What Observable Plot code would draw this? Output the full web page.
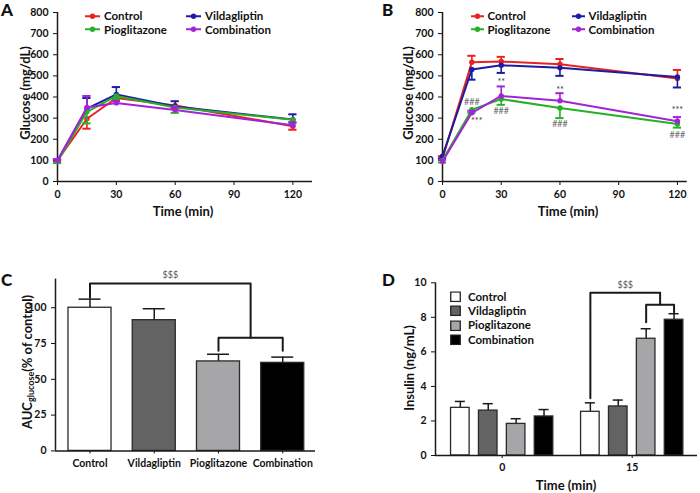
<!DOCTYPE html>
<html><head><meta charset="utf-8">
<script src="https://cdn.jsdelivr.net/npm/d3@7"></script>
<script src="https://cdn.jsdelivr.net/npm/@observablehq/plot@0.6"></script>
<style>
html,body{margin:0;padding:0;background:#fff;}
#fig{position:relative;width:700px;height:493px;overflow:hidden;font-family:Lato,sans-serif;color:#111;}
.panel{position:absolute;}
.letter{position:absolute;font-weight:900;font-size:17px;line-height:1;}
.leg{position:absolute;display:flex;align-items:center;font-weight:700;font-size:11.5px;line-height:1;white-space:nowrap;transform:translateY(-50%);}
.leg span{margin-left:4px;}
#titles{position:absolute;left:0;top:0;pointer-events:none;}
#titles text{font-family:Lato,sans-serif;font-weight:700;font-size:13px;fill:#111;}
</style></head><body><div id="fig"></div>
<script>
// ---------- data ----------
const groups = ["Control", "Vildagliptin", "Pioglitazone", "Combination"];
const times = [0, 15, 30, 60, 120];
const timeTicks = [0, 30, 60, 90, 120];

// Panel A: glucose (mg/dL), mean and SEM
const A_control = [100, 297, 395, 360, 262];
const A_vilda   = [100, 345, 412, 355, 293];
const A_pio     = [95, 330, 405, 350, 292];
const A_combo   = [100, 350, 372, 338, 266];
const A_control_err = [5, 47, 15, 15, 17];
const A_vilda_err   = [5, 50, 35, 25, 25];
const A_pio_err     = [8, 55, 15, 25, 15];
const A_combo_err   = [5, 55, 10, 15, 15];
const A_errDir = [-1, 1, -1, 1];

// Panel B
const B_control = [110, 565, 568, 555, 488];
const B_vilda   = [120, 530, 550, 538, 495];
const B_pio     = [100, 340, 390, 348, 272];
const B_combo   = [95, 325, 405, 382, 285];
const B_control_err = [10, 30, 22, 25, 40];
const B_vilda_err   = [10, 48, 36, 38, 50];
const B_pio_err     = [10, 15, 27, 48, 17];
const B_combo_err   = [8, 10, 45, 36, 20];
const B_errDir = [1, -1, -1, 1];
const B_annT     = [15, 17.5, 30, 30, 60, 60, 120, 120];
const B_annY     = [376, 284, 470, 331, 434, 273, 336, 218];
const B_annLabel = ["###", "***", "**", "###", "**", "###", "***", "###"];

// Panel C: AUC glucose (% of control)
const C_auc = [100, 91.3, 62.5, 61.5];
const C_err = [6, 8, 5, 4];
const C_sig = "$$$";

// Panel D: insulin (ng/mL)
const D_times = ["0", "15"];
const D_t0  = [2.76, 2.6, 1.83, 2.26];
const D_t0_err = [0.37, 0.4, 0.3, 0.4];
const D_t15 = [2.53, 2.84, 6.76, 7.86];
const D_t15_err = [0.52, 0.37, 0.58, 0.35];
const D_sig = "$$$";

// ---------- styles ----------
const lineColors = ["#e8231f", "#1c1ca3", "#27b027", "#a324d6"];
const barColors = ["#ffffff", "#636363", "#a6a6a9", "#000000"];
const axisColor = "#1a1a1a";
const baseStyle = {fontFamily: "Lato, sans-serif", fontSize: "10.5px", fontWeight: "bold", color: "#111", background: "transparent", overflow: "visible"};

const fig = document.getElementById("fig");
function place(el, left, top) { el.classList.add("panel"); el.style.left = left + "px"; el.style.top = top + "px"; fig.appendChild(el); }
function addDiv(cls, html, left, top) { const d = document.createElement("div"); d.className = cls; d.innerHTML = html; d.style.left = left + "px"; d.style.top = top + "px"; fig.appendChild(d); return d; }

function rowsOf(series, errs, dirs) {
  const rows = [];
  series.forEach((s, gi) => s.forEach((v, i) => rows.push({g: groups[gi], t: times[i], v, e: errs[gi][i], dir: dirs[gi]})));
  return rows;
}

function glucosePlot(rows, xmax, margins, ann) {
  const cap = 2.1;
  const marks = [
    Plot.ruleX([0], {y1: 0, y2: 800, stroke: axisColor, strokeWidth: 1.5}),
    Plot.ruleY([0], {x1: 0, x2: xmax, stroke: axisColor, strokeWidth: 1.5})
  ];
  groups.forEach(g => {
    const r = rows.filter(d => d.g === g);
    marks.push(
      Plot.ruleX(r, {x: "t", y1: "v", y2: d => d.v + d.dir * d.e, stroke: "g", strokeWidth: 1.6}),
      Plot.ruleY(r, {y: d => d.v + d.dir * d.e, x1: d => d.t - cap, x2: d => d.t + cap, stroke: "g", strokeWidth: 2}),
      Plot.line(r, {x: "t", y: "v", stroke: "g", strokeWidth: 2}),
      Plot.dot(r, {x: "t", y: "v", fill: "g", r: 2.7})
    );
  });
  if (ann) marks.push(Plot.text(ann, {x: "t", y: "y", text: "label", fill: d => d.label[0] === "#" ? "#6a6a6a" : "#333", fontSize: 9, fontWeight: "normal"}));
  return Plot.plot({
    width: 350, height: 240, ...margins,
    x: {domain: [0, xmax], ticks: timeTicks, tickSize: 4, label: null},
    y: {domain: [0, 800], ticks: d3.range(0, 801, 100), tickSize: 4, label: null},
    color: {domain: groups, range: lineColors},
    style: baseStyle,
    marks
  });
}

// Panel A
const rowsA = rowsOf([A_control, A_vilda, A_pio, A_combo], [A_control_err, A_vilda_err, A_pio_err, A_combo_err], A_errDir);
place(glucosePlot(rowsA, 130, {marginLeft: 57, marginRight: 38, marginTop: 12, marginBottom: 59}), 0, 0);

// Panel B
const rowsB = rowsOf([B_control, B_vilda, B_pio, B_combo], [B_control_err, B_vilda_err, B_pio_err, B_combo_err], B_errDir);
const annB = B_annT.map((t, i) => ({t, y: B_annY[i], label: B_annLabel[i]}));
place(glucosePlot(rowsB, 125, {marginLeft: 92, marginRight: 13.3, marginTop: 12, marginBottom: 59}, annB), 350, 0);

// Panel C
const rowsC = groups.map((g, i) => ({g, i, v: C_auc[i], e: C_err[i]}));
const hw = 0.335, capC = 0.171;
const bracketC = [
  {id: "a", x: 0, y: 107}, {id: "a", x: 0, y: 117}, {id: "a", x: 2.5, y: 117}, {id: "a", x: 2.5, y: 79},
  {id: "b", x: 2, y: 70}, {id: "b", x: 2, y: 79}, {id: "b", x: 3, y: 79}, {id: "b", x: 3, y: 70}
];
place(Plot.plot({
  width: 350, height: 253, marginLeft: 55, marginRight: 35, marginTop: 38.6, marginBottom: 42.6,
  x: {domain: [-0.537, 3.51], ticks: [0, 1, 2, 3], tickFormat: i => groups[i], tickSize: 3, tickPadding: 6, label: null},
  y: {domain: [0, 120], ticks: [0, 25, 50, 75, 100], tickSize: 4, label: null},
  color: {domain: groups, range: barColors},
  style: baseStyle,
  marks: [
    Plot.ruleX(rowsC, {x: "i", y1: "v", y2: d => d.v + d.e, stroke: axisColor, strokeWidth: 1.5}),
    Plot.ruleY(rowsC, {y: d => d.v + d.e, x1: d => d.i - capC, x2: d => d.i + capC, stroke: axisColor, strokeWidth: 1.5}),
    Plot.rect(rowsC, {x1: d => d.i - hw, x2: d => d.i + hw, y1: 0, y2: "v", fill: "g", stroke: "#2a2a2a", strokeWidth: 1.3}),
    Plot.line(bracketC, {x: "x", y: "y", z: "id", stroke: axisColor, strokeWidth: 2}),
    Plot.text([C_sig], {x: 1.25, y: 123, text: d => d, fontSize: 9, fill: "#555", fontWeight: "normal"}),
    Plot.ruleX([-0.537], {y1: 0, y2: 120, stroke: axisColor, strokeWidth: 1.5}),
    Plot.ruleY([0], {x1: -0.537, x2: 3.51, stroke: axisColor, strokeWidth: 1.5})
  ]
}), 0, 240);

// Panel D
const gap = 4.66;
const pos = (ti, gi) => ti * gap + gi - 1.5;
const rowsD = [];
[D_t0, D_t15].forEach((arr, ti) => arr.forEach((v, gi) => rowsD.push({g: groups[gi], p: pos(ti, gi), v, e: [D_t0_err, D_t15_err][ti][gi]})));
const hwD = 0.333, capD = 0.18;
const mid = (pos(1, 2) + pos(1, 3)) / 2;
const bracketD = [
  {id: "a", x: pos(1, 0), y: 3.32}, {id: "a", x: pos(1, 0), y: 9.42}, {id: "a", x: mid, y: 9.42}, {id: "a", x: mid, y: 8.73},
  {id: "b", x: pos(1, 2), y: 7.72}, {id: "b", x: pos(1, 2), y: 8.73}, {id: "b", x: pos(1, 3), y: 8.73}, {id: "b", x: pos(1, 3), y: 8.3}
];
const xD0 = -2.39, xD1 = 7.0;
place(Plot.plot({
  width: 350, height: 253, marginLeft: 85, marginRight: 3, marginTop: 42.3, marginBottom: 38,
  x: {domain: [xD0, xD1], ticks: [0, gap], tickFormat: p => D_times[Math.round(p / gap)], tickSize: 3, tickPadding: 5, label: null},
  y: {domain: [0, 10], ticks: [0, 2, 4, 6, 8, 10], tickSize: 4, label: null},
  color: {domain: groups, range: barColors},
  style: baseStyle,
  marks: [
    Plot.ruleX(rowsD, {x: "p", y1: "v", y2: d => d.v + d.e, stroke: axisColor, strokeWidth: 1.5}),
    Plot.ruleY(rowsD, {y: d => d.v + d.e, x1: d => d.p - capD, x2: d => d.p + capD, stroke: axisColor, strokeWidth: 1.5}),
    Plot.rect(rowsD, {x1: d => d.p - hwD, x2: d => d.p + hwD, y1: 0, y2: "v", fill: "g", stroke: "#2a2a2a", strokeWidth: 1.3}),
    Plot.line(bracketD, {x: "x", y: "y", z: "id", stroke: axisColor, strokeWidth: 2}),
    Plot.text([D_sig], {x: (pos(1, 0) + mid) / 2, y: 9.84, text: d => d, fontSize: 9, fill: "#555", fontWeight: "normal"}),
    Plot.ruleX([xD0], {y1: 0, y2: 10, stroke: axisColor, strokeWidth: 1.5}),
    Plot.ruleY([0], {x1: xD0, x2: xD1, stroke: axisColor, strokeWidth: 1.5})
  ]
}), 350, 240);

// ---------- text: letters, axis titles, legends ----------
addDiv("letter", "A", 1, 1);
addDiv("letter", "B", 382, 1);
addDiv("letter", "C", 1, 271);
addDiv("letter", "D", 382, 271);

const svgNS = "http://www.w3.org/2000/svg";
const titles = document.createElementNS(svgNS, "svg");
titles.setAttribute("id", "titles");
titles.setAttribute("width", 700);
titles.setAttribute("height", 493);
fig.appendChild(titles);
function title(parts, x, y, rotate) {
  const t = document.createElementNS(svgNS, "text");
  t.setAttribute("text-anchor", "middle");
  t.setAttribute("dominant-baseline", "central");
  t.setAttribute("transform", `translate(${x},${y})` + (rotate ? " rotate(-90)" : ""));
  parts.forEach(([s, sub]) => {
    const ts = document.createElementNS(svgNS, "tspan");
    ts.textContent = s;
    if (sub) { ts.setAttribute("font-size", "9"); ts.setAttribute("dy", "3"); }
    else if (t.childNodes.length) ts.setAttribute("dy", "-3");
    t.appendChild(ts);
  });
  titles.appendChild(t);
}
title([["Glucose (mg/dL)"]], 25, 93, true);
title([["Time (min)"]], 183, 211, false);
title([["Glucose (mg/dL)"]], 408, 93, true);
title([["Time (min)"]], 568, 211, false);
title([["AUC"], ["glucose", true], ["(% of control)"]], 27, 362, true);
title([["Insulin (ng/mL)"]], 409, 368, true);
title([["Time (min)"]], 566, 485, false);

function lineLegend(x1, x2, y1, y2, sw) {
  const cols = [x1, x2], rows = [y1, y2];
  groups.forEach((g, i) => {
    const col = i === 0 || i === 2 ? 0 : 1, row = i < 2 ? 0 : 1;
    const c = lineColors[i];
    addDiv("leg", `<svg width="${sw}" height="8"><line x1="0" x2="${sw}" y1="4" y2="4" stroke="${c}" stroke-width="2"/><circle cx="${sw / 2}" cy="4" r="2.7" fill="${c}"/></svg><span>${g}</span>`, cols[col], rows[row]);
  });
}
lineLegend(85, 186, 16, 29.5, 15);
lineLegend(470.5, 571.5, 16, 29.5, 13);

groups.forEach((g, i) => {
  addDiv("leg", `<svg width="11" height="11"><rect x="0.75" y="0.75" width="9.5" height="9.5" fill="${barColors[i]}" stroke="#222" stroke-width="1.3"/></svg><span style="margin-left:7px">${g}</span>`, 450, 297 + i * 14.2);
});
</script></body></html>
